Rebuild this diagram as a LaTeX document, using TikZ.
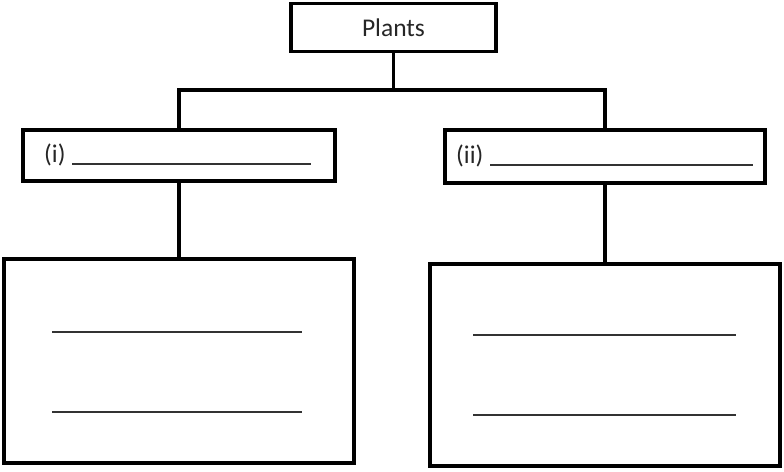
\documentclass[tikz,border=0pt]{standalone}
\usepackage{fontspec}
\setmainfont{Carlito}
\usetikzlibrary{positioning}
\tikzset{>=latex}
\tikzset{
  box/.style={draw, line width=3.5pt, rectangle, inner sep=0pt},
  blank/.style={line width=1.4pt, black!80}
}
\begin{document}
\begin{tikzpicture}[x=1pt, y=-1pt]
\useasboundingbox (0,0) rectangle (784,471);
\node[box, minimum width=205pt, minimum height=48pt] (plants) at (393.5, 27.5) {\fontsize{25.5}{30}\selectfont\color{black!85} Plants};
\node[box, minimum width=312pt, minimum height=51pt] (typeA) at (179, 155.5) {};
\node[box, minimum width=320pt, minimum height=53pt] (typeB) at (605, 156.5) {};
\node[box, minimum width=350pt, minimum height=204pt] (descA) at (179, 361) {};
\node[box, minimum width=350pt, minimum height=202pt] (descB) at (605, 365) {};
\coordinate (fork) at (393.5, 90);
% tree lines
\draw[line width=3.5pt] (plants.south) -- (fork);
\draw[line width=3.5pt] (typeA.north) |- (fork) -| (typeB.north);
\draw[line width=3.5pt] (typeA.south) -- (descA.north);
\draw[line width=3.5pt] (typeB.south) -- (descB.north);
% labels and blanks
\node[anchor=west, inner sep=0pt] (labA) at (44, 155) {\fontsize{25.5}{30}\selectfont\color{black!85}(i)};
\node[anchor=west, inner sep=0pt] (labB) at (456, 156) {\fontsize{25.5}{30}\selectfont\color{black!85}(ii)};
\draw[blank] (72, 164) -- (311, 164);
\draw[blank] (490, 165) -- (753, 165);
\draw[blank] (52, 332) -- (302, 332);
\draw[blank] (52, 412) -- (302, 412);
\draw[blank] (473, 335) -- (736, 335);
\draw[blank] (473, 415) -- (736, 415);
\end{tikzpicture}
\end{document}
